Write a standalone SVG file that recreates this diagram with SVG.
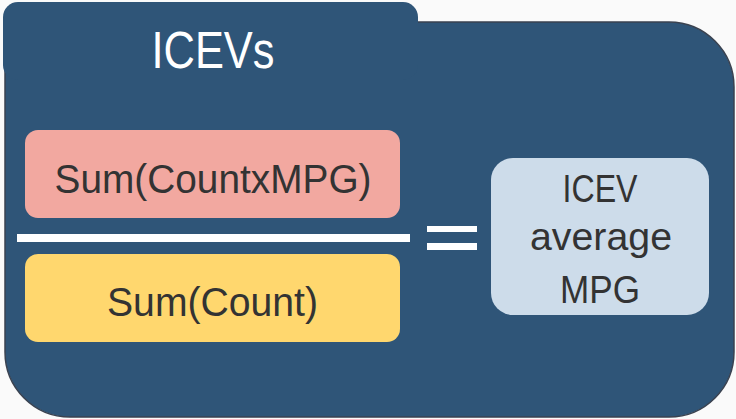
<svg xmlns="http://www.w3.org/2000/svg" width="736" height="419" viewBox="0 0 736 419">
<style>
.t{font-family:"Liberation Sans Narrow","Liberation Sans",Arial,sans-serif;fill:#333333;text-anchor:middle}
.w{font-family:"Liberation Sans Narrow","Liberation Sans",Arial,sans-serif;fill:#ffffff;text-anchor:middle}
.bar{fill:#ffffff}
</style>
<rect x="0" y="0" width="736" height="419" fill="#fafafa"/>
<g id="container">
<path d="M5,22 H669 A65,65 0 0 1 734,87 V352 A65,65 0 0 1 669,417 H70 A65,65 0 0 1 5,352 Z" fill="#2f5578" stroke="#3a4250" stroke-width="1.5"/>
<rect x="3" y="2" width="415" height="78" rx="15" fill="#2f5578"/>
<text class="w" x="213" y="68" font-size="52" textLength="123" lengthAdjust="spacingAndGlyphs">ICEVs</text>
</g>
<g id="numerator">
<rect x="25" y="130" width="375" height="88" rx="13" fill="#f2a8a0"/>
<text class="t" x="213" y="193" font-size="40" textLength="317" lengthAdjust="spacingAndGlyphs">Sum(CountxMPG)</text>
</g>
<g id="denominator">
<rect x="25" y="254" width="375" height="88" rx="13" fill="#ffd76e"/>
<text class="t" x="212.5" y="316" font-size="40" textLength="211" lengthAdjust="spacingAndGlyphs">Sum(Count)</text>
</g>
<g id="result">
<rect x="491" y="158" width="218" height="157" rx="22" fill="#cddcea"/>
<text class="t" x="600" y="202" font-size="38" textLength="75" lengthAdjust="spacingAndGlyphs">ICEV</text>
<text class="t" x="601" y="250" font-size="38" textLength="142" lengthAdjust="spacingAndGlyphs">average</text>
<text class="t" x="600" y="303" font-size="38" textLength="80" lengthAdjust="spacingAndGlyphs">MPG</text>
</g>
<g id="connectors">
<rect class="bar" x="17" y="234" width="393" height="8"/>
<rect class="bar" x="427" y="226" width="50" height="6"/>
<rect class="bar" x="427" y="243" width="50" height="7"/>
</g>
</svg>
